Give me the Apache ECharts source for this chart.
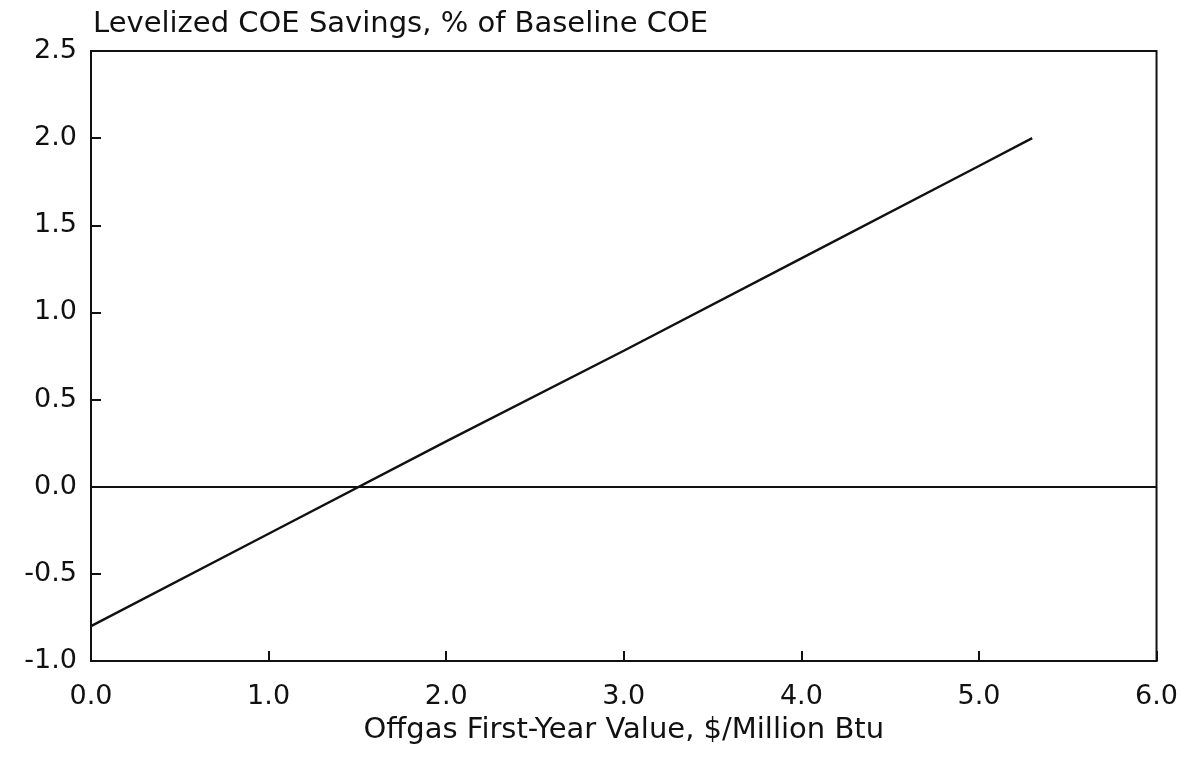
<!DOCTYPE html>
<html>
<head>
<meta charset="utf-8">
<script src="https://cdn.jsdelivr.net/npm/echarts@6/dist/echarts.min.js"></script>
<style>html,body{margin:0;padding:0;background:#fff;}#c{width:1181px;height:762px;}</style>
</head>
<body>
<div id="c"></div>
<script>
const chartTitle = "Levelized COE Savings, % of Baseline COE";
const xAxisName = "Offgas First-Year Value, $/Million Btu";
const xValues = [0.0, 1.0, 2.0, 3.0, 4.0, 5.0, 5.3];
const savings = [-0.80, -0.27, 0.26, 0.78, 1.31, 1.84, 2.00];
const xTicks = { min: 0, max: 6, interval: 1 };
const yTicks = { min: -1, max: 2.5, interval: 0.5 };

const font = "DejaVu Sans";
const ink = "#111";
const chart = echarts.init(document.getElementById('c'), null, { renderer: 'canvas' });
chart.setOption({
  animation: false,
  backgroundColor: '#fff',
  title: {
    text: chartTitle, left: 88, top: 5,
    textStyle: { fontFamily: font, fontSize: 29, fontWeight: 'normal', color: ink }
  },
  grid: { left: 91, right: 24, top: 51, bottom: 101, show: true, borderColor: ink, borderWidth: 2, backgroundColor: 'transparent' },
  xAxis: {
    type: 'value', min: xTicks.min, max: xTicks.max, interval: xTicks.interval,
    name: xAxisName, nameLocation: 'middle', nameGap: 55,
    nameTextStyle: { fontFamily: font, fontSize: 29, color: ink },
    axisLine: { show: true, onZero: false, lineStyle: { color: ink, width: 2 } },
    axisTick: { show: true, inside: true, length: 10, lineStyle: { color: ink, width: 2 } },
    axisLabel: { fontFamily: font, fontSize: 27, color: ink, margin: 22, formatter: v => v.toFixed(1) },
    splitLine: { show: false }
  },
  yAxis: {
    type: 'value', min: yTicks.min, max: yTicks.max, interval: yTicks.interval,
    axisLine: { show: true, onZero: false, lineStyle: { color: ink, width: 2 } },
    axisTick: { show: true, inside: true, length: 10, lineStyle: { color: ink, width: 2 } },
    axisLabel: { fontFamily: font, fontSize: 27, color: ink, margin: 14, formatter: v => v.toFixed(1) },
    splitLine: { show: false }
  },
  series: [{
    type: 'line',
    data: xValues.map((x, i) => [x, savings[i]]),
    showSymbol: false, symbol: 'none',
    lineStyle: { color: ink, width: 2.4 },
    markLine: {
      silent: true, symbol: ['none', 'none'], label: { show: false },
      lineStyle: { color: ink, width: 2, type: 'solid' },
      data: [{ yAxis: 0 }]
    }
  }]
});
</script>
</body>
</html>
